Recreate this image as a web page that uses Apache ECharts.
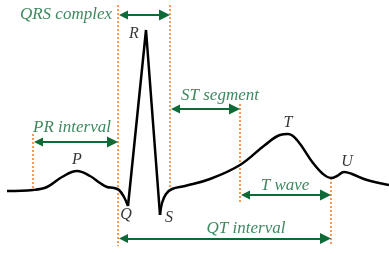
<!DOCTYPE html>
<html>
<head>
<meta charset="utf-8">
<script src="https://cdn.jsdelivr.net/npm/echarts@6/dist/echarts.min.js"></script>
<style>
  html, body { margin: 0; padding: 0; background: #fff; }
  #chart { width: 389px; height: 254px; }
</style>
</head>
<body>
<div id="chart"></div>
<script>
// trace, in picture units (x right, y down)
let pWave = [[7,191],[33,190],[47,187],[62,177],[77,171],[90,176],[100,183],[107,187],[114,188],[119,190],[124,197],[128,206]];
let qrs = [[128,206],[146,30],[160,215]];
let stT = [[160,215],[162,203],[166,194],[172,189],[185,186],[210,179],[240,165],[265,145],[280,135],[288,134],[297,140],[313,163],[323,174],[331,178],[337,176],[344,172],[352,174],[367,180],[389,185]];

// dotted markers: [x, yTop, yBottom]
let guides = [[33,134,190],[118,5,246],[170,5,190],[240,104,202],[331,178,246]];

// arrows: [x1, x2, y]
let spans = [[118,170,15],[170,240,109],[33,118,142],[240,331,195],[118,331,238.5]];

// green captions: [text, x, y, align]
let captions = [
	['QRS complex',112,15,'right'],
	['ST segment',220,96,'center'],
	['PR interval',72,128,'center'],
	['T wave',285,186,'center'],
	['QT interval',246,229,'center']
];
// wave letters
let letters = [['R',134,34],['P',77,160],['Q',126,215],['S',169,218],['T',288,123],['U',347,162]];

let green = '#0e6a37';
let orange = '#f37a21';
let font = "'Liberation Serif', 'DejaVu Serif', serif";
let head = 11; // arrow head length, tips sit on the guides

let chart = echarts.init(document.getElementById('chart'));
let series = [];

guides.forEach(function(g) {
	series.push({
		type: 'line',
		data: [[g[0], g[1]], [g[0], g[2]]],
		symbol: 'none',
		lineStyle: { color: orange, width: 1.5, type: [2, 2] },
		z: 1
	});
});

series.push({
	type: 'line', data: pWave, smooth: 0.4, symbol: 'none',
	lineStyle: { color: '#000', width: 2.5 }, z: 5
});
series.push({
	type: 'line', data: qrs, symbol: 'none',
	lineStyle: { color: '#000', width: 2.5, join: 'miter' }, z: 5
});
series.push({
	type: 'line', data: stT, smooth: 0.4, symbol: 'none',
	lineStyle: { color: '#000', width: 2.5 }, z: 5
});

series.push({
	type: 'lines',
	coordinateSystem: 'cartesian2d',
	symbol: ['triangle', 'triangle'],
	symbolSize: [9, head],
	lineStyle: { color: green, width: 2, opacity: 1 },
	data: spans.map(function(s) {
		return { coords: [[s[0] + head / 2, s[2]], [s[1] - head / 2, s[2]]] };
	}),
	z: 4
});

series.push({
	type: 'scatter',
	symbolSize: 0,
	data: captions.map(function(c) {
		return {
			value: [c[1], c[2]],
			label: {
				show: true, position: 'inside', formatter: c[0], align: c[3],
				color: green, fontFamily: font, fontStyle: 'italic', fontSize: 17
			}
		};
	}),
	z: 6
});
series.push({
	type: 'scatter',
	symbolSize: 0,
	data: letters.map(function(c) {
		return {
			value: [c[1], c[2]],
			label: {
				show: true, position: 'inside', formatter: c[0],
				color: '#000', fontFamily: font, fontStyle: 'italic', fontSize: 16
			}
		};
	}),
	z: 6
});

chart.setOption({
	animation: false,
	grid: { left: 0, right: 0, top: 0, bottom: 0 },
	xAxis: { type: 'value', min: 0, max: 389, show: false },
	yAxis: { type: 'value', min: 0, max: 254, inverse: true, show: false },
	series: series
});
</script>
</body>
</html>
